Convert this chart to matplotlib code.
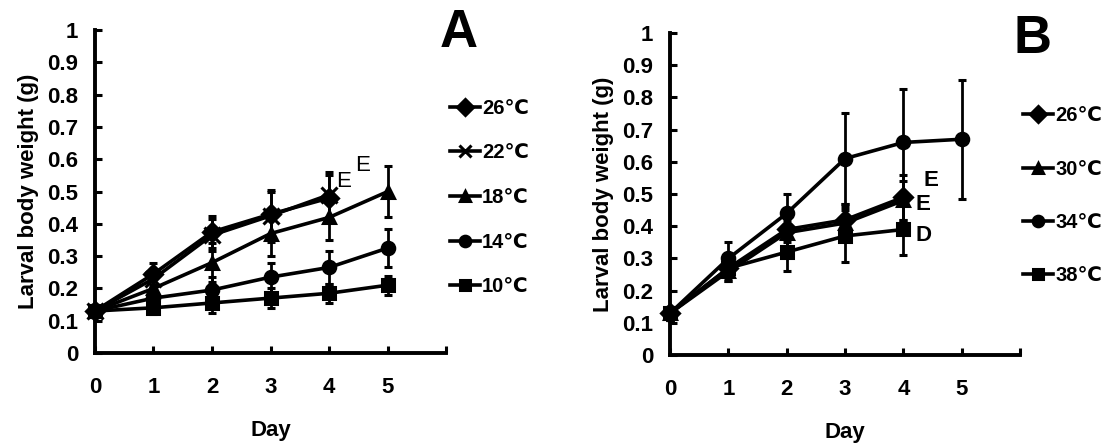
import matplotlib
matplotlib.use('Agg')
import matplotlib.pyplot as plt

plt.rcParams['font.family'] = ['Liberation Sans', 'DejaVu Sans']
plt.rcParams['font.weight'] = 'bold'

# ── Data ──────────────────────────────────────────────────────────────────────
days = [0, 1, 2, 3, 4, 5]

# panel A
a_labels  = ['26℃', '22℃', '18℃', '14℃', '10℃']
a_markers = ['D', 'x', '^', 'o', 's']
a26 = [0.13, 0.245, 0.375, 0.43, 0.48]
a22 = [0.13, 0.23, 0.365, 0.425, 0.49]
a18 = [0.13, 0.20, 0.28, 0.37, 0.42, 0.50]
a14 = [0.13, 0.17, 0.195, 0.235, 0.265, 0.325]
a10 = [0.13, 0.14, 0.155, 0.17, 0.185, 0.21]
a26_err = [0.02, 0.035, 0.05, 0.07, 0.07]
a22_err = [0.02, 0.03, 0.05, 0.08, 0.07]
a18_err = [0.02, 0.03, 0.06, 0.07, 0.07, 0.08]
a14_err = [0.02, 0.03, 0.04, 0.045, 0.05, 0.06]
a10_err = [0.02, 0.02, 0.03, 0.03, 0.03, 0.03]

# panel B
b_labels  = ['26℃', '30℃', '34℃', '38℃']
b_markers = ['D', '^', 'o', 's']
b26 = [0.13, 0.27, 0.39, 0.42, 0.49]
b30 = [0.13, 0.26, 0.38, 0.41, 0.48]
b34 = [0.13, 0.30, 0.44, 0.61, 0.66, 0.67]
b38 = [0.13, 0.27, 0.32, 0.37, 0.39]
b26_err = [0.02, 0.03, 0.04, 0.05, 0.07]
b30_err = [0.02, 0.03, 0.04, 0.05, 0.06]
b34_err = [0.02, 0.05, 0.06, 0.14, 0.165, 0.185]
b38_err = [0.02, 0.04, 0.06, 0.08, 0.08]

yticks = [0, 0.1, 0.2, 0.3, 0.4, 0.5, 0.6, 0.7, 0.8, 0.9, 1]
ytick_labels = ['0', '0.1', '0.2', '0.3', '0.4', '0.5', '0.6', '0.7', '0.8', '0.9', '1']

FS = 16
LFS = 14.5

fig = plt.figure(figsize=(11.08, 4.44), dpi=100)
axA = fig.add_axes([0.0857, 0.205, 0.317, 0.727])
axB = fig.add_axes([0.6047, 0.200, 0.316, 0.726])


def style(ax):
    ax.set_xlim(0, 6)
    ax.set_ylim(0, 1)
    for s in ['top', 'right']:
        ax.spines[s].set_visible(False)
    for s in ['left', 'bottom']:
        ax.spines[s].set_linewidth(2.8)
        ax.spines[s].set_color('black')
    ax.set_xticks(range(7))
    ax.set_xticklabels(['0', '1', '2', '3', '4', '5', ''])
    ax.set_yticks(yticks)
    ax.set_yticklabels(ytick_labels)
    ax.tick_params(direction='in', length=5, width=2.2, labelsize=FS, pad=12)
    ax.tick_params(axis='x', pad=17)
    ax.set_xlabel('Day', fontsize=FS, fontweight='bold', labelpad=16)
    ax.set_ylabel('Larval body weight (g)', fontsize=FS, fontweight='bold', labelpad=6)


def series(ax, y, err, marker, label):
    x = days[:len(y)]
    ms = 9 if marker != 'x' else 11
    cont = ax.errorbar(x, y, yerr=err, color='black', lw=2.6, marker=marker, ms=ms,
                       mew=2.2, elinewidth=2, capsize=3, capthick=2,
                       clip_on=False)
    cont[0].set_label(label)
    return cont[0]


hA = [series(axA, y, e, m, l) for y, e, m, l in
      zip([a26, a22, a18, a14, a10],
          [a26_err, a22_err, a18_err, a14_err, a10_err],
          a_markers, a_labels)]
style(axA)
axA.text(4.12, 0.515, 'E', fontsize=FS, fontweight='normal')
axA.text(4.45, 0.565, 'E', fontsize=FS, fontweight='normal')

hB = [series(axB, y, e, m, l) for y, e, m, l in
      zip([b26, b30, b34, b38],
          [b26_err, b30_err, b34_err, b38_err],
          b_markers, b_labels)]
style(axB)
axB.text(4.35, 0.525, 'E', fontsize=FS)
axB.text(4.2, 0.45, 'E', fontsize=FS)
axB.text(4.2, 0.355, 'D', fontsize=FS)

# panel letters
fig.text(0.397, 0.895, 'A', fontsize=38, fontweight='bold')
fig.text(0.915, 0.88, 'B', fontsize=38, fontweight='bold')

# legends
fig.legend(hA, a_labels, loc='upper left', bbox_to_anchor=(0.397, 0.80), frameon=False,
           fontsize=LFS, handlelength=1.5, handletextpad=0.1, labelspacing=1.27,
           borderpad=0, markerscale=0.85)
fig.legend(hB, b_labels, loc='upper left', bbox_to_anchor=(0.914, 0.783), frameon=False,
           fontsize=LFS, handlelength=1.5, handletextpad=0.1, labelspacing=1.7,
           borderpad=0, markerscale=0.85)

fig.savefig('out.png', dpi=100)
